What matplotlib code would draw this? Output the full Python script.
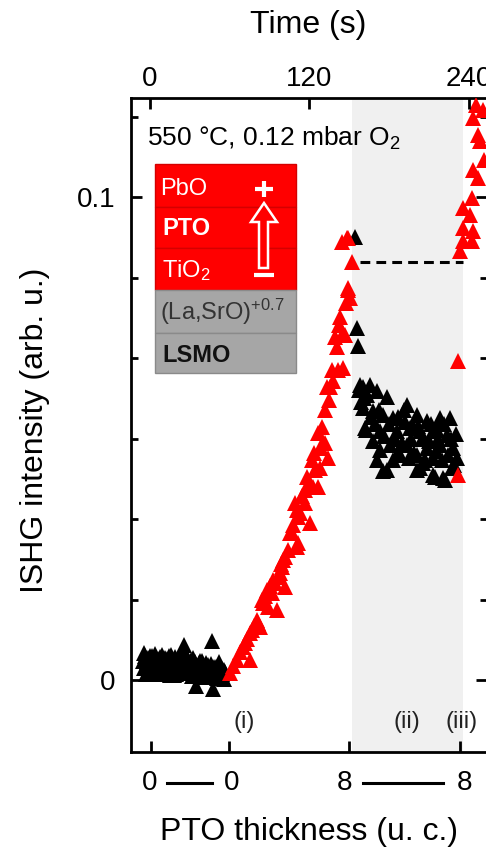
import numpy as np
import matplotlib
matplotlib.use("Agg")
import matplotlib.pyplot as plt
from matplotlib.patches import Rectangle, Polygon
from matplotlib.lines import Line2D
import matplotlib.transforms as mtransforms

plt.rcParams['font.family'] = ['Liberation Sans', 'DejaVu Sans']
plt.rcParams['mathtext.fontset'] = 'custom'
plt.rcParams['mathtext.rm'] = 'Liberation Sans'
plt.rcParams['mathtext.it'] = 'Liberation Sans:italic'
plt.rcParams['mathtext.bf'] = 'Liberation Sans:bold'

# ---- data: time (s) and ISHG intensity (arb. u.) ----
# black: no deposition (before growth and during the growth pause)
black_pre_t = [-5, -4.2, -3.5, -2.5, -1.5, -0.5, 0.5, 1.5, 2.5, 3.5, 4.5, 5.5, 6.5, 7.5,
               8.5, 9.5, 10.5, 11.5, 12.5, 13.5, 14.5, 15.5, 16.5, 17.5, 18.5, 19.5,
               20.5, 21.5, 22.5, 23.5, 24.5, 25.5, 26.5, 27.5, 28.5, 29.5, 30.5, 31.5,
               32.5, 33.5, 34.5, 35.5, 36.5, 37.5, 38.5, 39.5, 40.5, 41.5, 42.5, 43.5,
               44.5, 45.5, 46.5, 47.5, 48.5, 49.5, 50.5, 51.5, 52.5, 53.5, 54.5, 55.5, 56.5,
               -4.6, -3.0, -2.0, -1.0, 0.0, 1.0, 2.0, 3.0, 4.0, 5.0, 6.0, 7.0, 8.0, 9.0,
               10.0, 11.0, 12.0, 13.0, 14.0, 15.0, 16.0, 17.0, 18.0, 19.0, 20.0, 22.0,
               24.0, 26.0, 28.0, 30.0, 32.0, 34.0, 36.0, 38.0, 40.0, 42.0, 44.0, 46.0,
               48.0, 50.0, 52.0, 54.0, 56.0]
black_pre_y = [0.0040, 0.0025, 0.0050, 0.0030, 0.0045, 0.0020, 0.0035, 0.0050, 0.0028,
               0.0040, 0.0018, 0.0042, 0.0032, 0.0048, 0.0022, 0.0038, 0.0030, 0.0046,
               0.0015, 0.0036, 0.0027, 0.0052, 0.0021, 0.0034, 0.0044, 0.0012, 0.0031,
               0.0047, 0.0025, 0.0039, 0.0019, 0.0072, 0.0033, 0.0043, 0.0014, 0.0029,
               0.0041, 0.0008, 0.0026, 0.0037, -0.0012, 0.0022, 0.0035, 0.0011, 0.0028,
               0.0040, 0.0017, 0.0024, 0.0006, 0.0032, 0.0021, 0.0009, 0.0080, -0.0018,
               0.0015, 0.0026, 0.0004, 0.0019, 0.0030, 0.0010, 0.0023, 0.0002, 0.0016,
               0.0055, 0.0012, 0.0038, 0.0026, 0.0049, 0.0015, 0.0041, 0.0023, 0.0054,
               0.0029, 0.0013, 0.0044, 0.0027, 0.0051, 0.0016, 0.0035, 0.0043, 0.0024,
               0.0050, 0.0011, 0.0039, 0.0025, 0.0010, 0.0048, 0.0022, 0.0036, 0.0045,
               0.0056, 0.0030, 0.0017, 0.0045, 0.0033, 0.0014, 0.0040, 0.0029, 0.0036,
               0.0012, 0.0034, 0.0027, 0.0007, 0.0038, 0.0013, 0.0021]

black_pause_t = [154.3, 155.8, 156.5, 158.0, 160.3, 165.5, 161.0, 170.8, 178.3, 160.3,
                 167.8, 175.3, 182.8, 193.4, 200.9, 208.4, 218.2, 225.7, 161.8, 162.5,
                 173.1, 185.9, 195.6, 197.9, 203.2, 212.9, 216.0, 223.5, 167.8, 180.6,
                 193.4, 208.4, 218.2, 228.0, 173.1, 188.1, 200.9, 212.9, 231.0, 182.8,
                 195.0, 178.3, 200.9, 203.2, 175.3, 212.9, 214.5, 220.5, 222.0,
                 157.0, 159.0, 163.0, 166.0, 169.0, 172.0, 176.0, 179.5, 184.0, 187.0,
                 190.0, 192.0, 196.5, 199.0, 202.0, 205.0, 207.0, 210.0, 211.5, 215.0,
                 217.0, 219.5, 221.0, 224.5, 226.5, 229.0, 230.0, 171.0, 186.5, 205.5,
                 227.5, 191.0]
black_pause_y = [0.0917, 0.0729, 0.0692, 0.0611, 0.0607, 0.0611, 0.0584, 0.0598, 0.0586,
                 0.0563, 0.0557, 0.0549, 0.0542, 0.0569, 0.0549, 0.0536, 0.0542, 0.0542,
                 0.0522, 0.0518, 0.0516, 0.0516, 0.0522, 0.0524, 0.0516, 0.0516, 0.0518,
                 0.0507, 0.0495, 0.0487, 0.0487, 0.0480, 0.0487, 0.0480, 0.0476, 0.0466,
                 0.0466, 0.0460, 0.0460, 0.0455, 0.0460, 0.0435, 0.0435, 0.0439, 0.0433,
                 0.0424, 0.0420, 0.0418, 0.0414,
                 0.0600, 0.0575, 0.0590, 0.0545, 0.0530, 0.0560, 0.0505, 0.0530, 0.0500,
                 0.0545, 0.0490, 0.0535, 0.0500, 0.0470, 0.0525, 0.0500, 0.0455, 0.0495,
                 0.0530, 0.0475, 0.0500, 0.0455, 0.0530, 0.0465, 0.0500, 0.0445, 0.0510,
                 0.0455, 0.0470, 0.0450, 0.0440, 0.0560]

# red: PTO deposition
red_grow_t = [60.2, 65.5, 70.0, 75.2, 75.2, 71.5, 76.7, 80.5, 81.3, 82.8, 84.3, 85.0,
              88.0, 88.8, 91.8, 92.6, 95.6, 96.3, 97.8, 99.3, 100.1, 101.6, 101.6, 105.3,
              106.8, 109.1, 110.6, 110.6, 111.4, 111.4, 116.6, 116.6, 118.9, 120.4, 121.9,
              122.6, 124.2, 126.4, 126.4, 127.9, 129.4, 130.2, 131.7, 133.2, 133.9, 135.4,
              136.9, 139.2, 141.5, 143.0, 145.2, 145.2, 146.7, 149.0, 149.0, 150.5, 144.5,
              148.2, 149.0, 152.0,
              62.5, 67.5, 73.0, 78.5, 86.5, 90.0, 94.0, 98.5, 103.5, 107.5, 113.0, 114.5,
              118.0, 123.5, 128.5, 132.0, 134.5, 137.5, 140.5, 142.0, 147.5]
red_grow_y = [0.0014, 0.0041, 0.0068, 0.0041, 0.0097, 0.0077, 0.0104, 0.0124, 0.0118,
              0.0110, 0.0166, 0.0159, 0.0186, 0.0151, 0.0180, 0.0207, 0.0145, 0.0213,
              0.0222, 0.0234, 0.0248, 0.0255, 0.0193, 0.0304, 0.0304, 0.0366, 0.0275,
              0.0352, 0.0337, 0.0284, 0.0393, 0.0366, 0.0400, 0.0325, 0.0455, 0.0400,
              0.0435, 0.0511, 0.0400, 0.0439, 0.0524, 0.0493, 0.0491, 0.0607, 0.0460,
              0.0607, 0.0642, 0.0710, 0.0642, 0.0752, 0.0718, 0.0646, 0.0714, 0.0807,
              0.0812, 0.0791, 0.0907, 0.0915, 0.0915, 0.0865,
              0.0030, 0.0058, 0.0085, 0.0112, 0.0175, 0.0195, 0.0200, 0.0240, 0.0270,
              0.0320, 0.0345, 0.0380, 0.0420, 0.0470, 0.0480, 0.0560, 0.0580, 0.0620,
              0.0690, 0.0735, 0.0780]

red_resume_t = [231.8, 231.8, 233.3, 235.5, 242.3, 235.5, 243.0, 240.8, 235.5, 242.3,
                243.0, 246.8, 243.0, 246.8, 248.3, 250.6, 251.3, 245.3]
red_resume_y = [0.0660, 0.0424, 0.0888, 0.0909, 0.0909, 0.0936, 0.0930, 0.0963, 0.0977,
                0.0998, 0.1056, 0.1039, 0.1164, 0.1128, 0.1116, 0.1180, 0.1077, 0.1190]

pause_span = (152.0, 235.5)
plateau_level = 0.0865
plateau_span = (158.0, 235.5)

time_ticks = [0, 120, 240]
thick_ticks = [0.75, 59.4, 149.7, 233.0]
thick_labels = ['0', '0', '8', '8']
thick_label_t = [0.0, 61.7, 146.7, 237.0]
stage_labels = ['(i)', '(ii)', '(iii)']
stage_t = [70.7, 193.6, 234.3]

W, H = 486, 849
fig = plt.figure(figsize=(W / 100, H / 100), dpi=100)


def fx(px):
    return px / W


def fy(py):
    return 1 - py / H


ax = fig.add_axes([fx(131), fy(752), (487 - 131) / W, (752 - 98) / H])
ax.set_xlim(-14.3, 253.6)
ax.set_ylim(-0.0149, 0.1205)

ax.axvspan(*pause_span, color='#f0f0f0', zorder=0, lw=0)

mk = dict(marker='^', ls='none', ms=12, mew=0)
ax.plot(black_pre_t, black_pre_y, color='black', zorder=3, **mk)
ax.plot(black_pause_t, black_pause_y, color='black', zorder=3, **mk)
ax.plot(red_grow_t, red_grow_y, color='#ff0000', zorder=4, **mk)
ax.plot(red_resume_t, red_resume_y, color='#ff0000', zorder=4, **mk)

ax.plot(plateau_span, [plateau_level, plateau_level], color='black', lw=2.2,
        dashes=(3.2, 2.0), zorder=5)

# axis styling
for s in ax.spines.values():
    s.set_linewidth(2.0)

yt = np.arange(0, 0.12, 0.1 / 6)
ax.set_yticks([0, 0.1])
ax.set_yticklabels(['0', '0.1'])
ax.set_yticks([v for v in yt if abs(v) > 1e-9 and abs(v - 0.1) > 1e-9], minor=True)
ax.tick_params(axis='y', which='both', direction='in', left=True, right=True,
               width=2.0, labelsize=20, pad=11)
ax.tick_params(axis='y', which='major', length=8)
ax.tick_params(axis='y', which='minor', length=5)

ax.set_xticks(thick_ticks)
ax.set_xticklabels([])
ax.tick_params(axis='x', which='both', direction='in', length=8, width=2.0,
               top=False, bottom=True)

top = ax.twiny()
top.set_xlim(ax.get_xlim())
top.set_xticks(time_ticks)
top.set_xticklabels([str(v) for v in time_ticks])
top.tick_params(axis='x', direction='in', length=8, width=2.0, labelsize=20, pad=4)
for s in top.spines.values():
    s.set_visible(False)

# bottom thickness labels with connecting bars
blend = mtransforms.blended_transform_factory(ax.transData, ax.transAxes)
ylab_ax = (752 - 783) / 654
for t, lab in zip(thick_label_t, thick_labels):
    ax.text(t, ylab_ax, lab, transform=blend, ha='center', va='center',
            fontsize=20, clip_on=False)
for t0, t1 in [(12.8, 46.7), (160.3, 220.5)]:
    ax.add_line(Line2D([t0, t1], [ylab_ax, ylab_ax], transform=blend, color='black',
                       lw=2.2, clip_on=False))

for t, lab in zip(stage_t, stage_labels):
    ax.text(t, -0.0087, lab, ha='center', va='center', fontsize=17, color='#222222')

fig.text(fx(308), fy(33), 'Time (s)', ha='center', va='baseline', fontsize=23)
fig.text(fx(309), fy(840), 'PTO thickness (u. c.)', ha='center', va='baseline', fontsize=23)
fig.text(fx(35), fy(430), 'ISHG intensity (arb. u.)', ha='center', va='center',
         rotation=90, fontsize=23)

fig.text(fx(147), fy(146), '550 °C, 0.12 mbar O$_2$', ha='left', va='baseline',
         fontsize=19)

# layer stack sketch
rows = [164, 207, 248, 290, 333, 373]
bx0, bx1 = 155, 296
for i, (ya, yb) in enumerate(zip(rows[:-1], rows[1:])):
    red = i < 3
    fig.patches.append(Rectangle((fx(bx0), fy(yb)), fx(bx1) - fx(bx0), fy(ya) - fy(yb),
                                 transform=fig.transFigure,
                                 facecolor='#ff0000' if red else '#a6a6a6',
                                 edgecolor='#d40000' if red else '#8a8a8a',
                                 lw=1.0, zorder=6))

fig.text(fx(160), fy(195), 'PbO', color='white', fontsize=17, va='baseline', zorder=7)
fig.text(fx(162), fy(235), 'PTO', color='white', fontsize=17, fontweight='bold',
         va='baseline', zorder=7)
fig.text(fx(162), fy(277), 'TiO$_2$', color='white', fontsize=17, va='baseline', zorder=7)
fig.text(fx(160), fy(320), '(La,SrO)$^{+0.7}$', color='#333333', fontsize=17,
         va='baseline', zorder=7)
fig.text(fx(162), fy(362), 'LSMO', color='#111111', fontsize=17, fontweight='bold',
         va='baseline', zorder=7)

arrow_px = [(264, 203), (277, 222), (268, 222), (268, 268), (259, 268), (259, 222), (251, 222)]
fig.patches.append(Polygon([(fx(x), fy(y)) for x, y in arrow_px], closed=True,
                           transform=fig.transFigure, facecolor='#ff0000',
                           edgecolor='white', lw=1.8, zorder=7))
for (x0, y0), (x1, y1) in [((255, 189), (273, 189)), ((264, 181), (264, 197)),
                           ((254, 275), (274, 275))]:
    fig.lines.append(Line2D([fx(x0), fx(x1)], [fy(y0), fy(y1)], transform=fig.transFigure,
                            color='white', lw=3.0, solid_capstyle='butt', zorder=8))

fig.savefig('out.png', dpi=100)
